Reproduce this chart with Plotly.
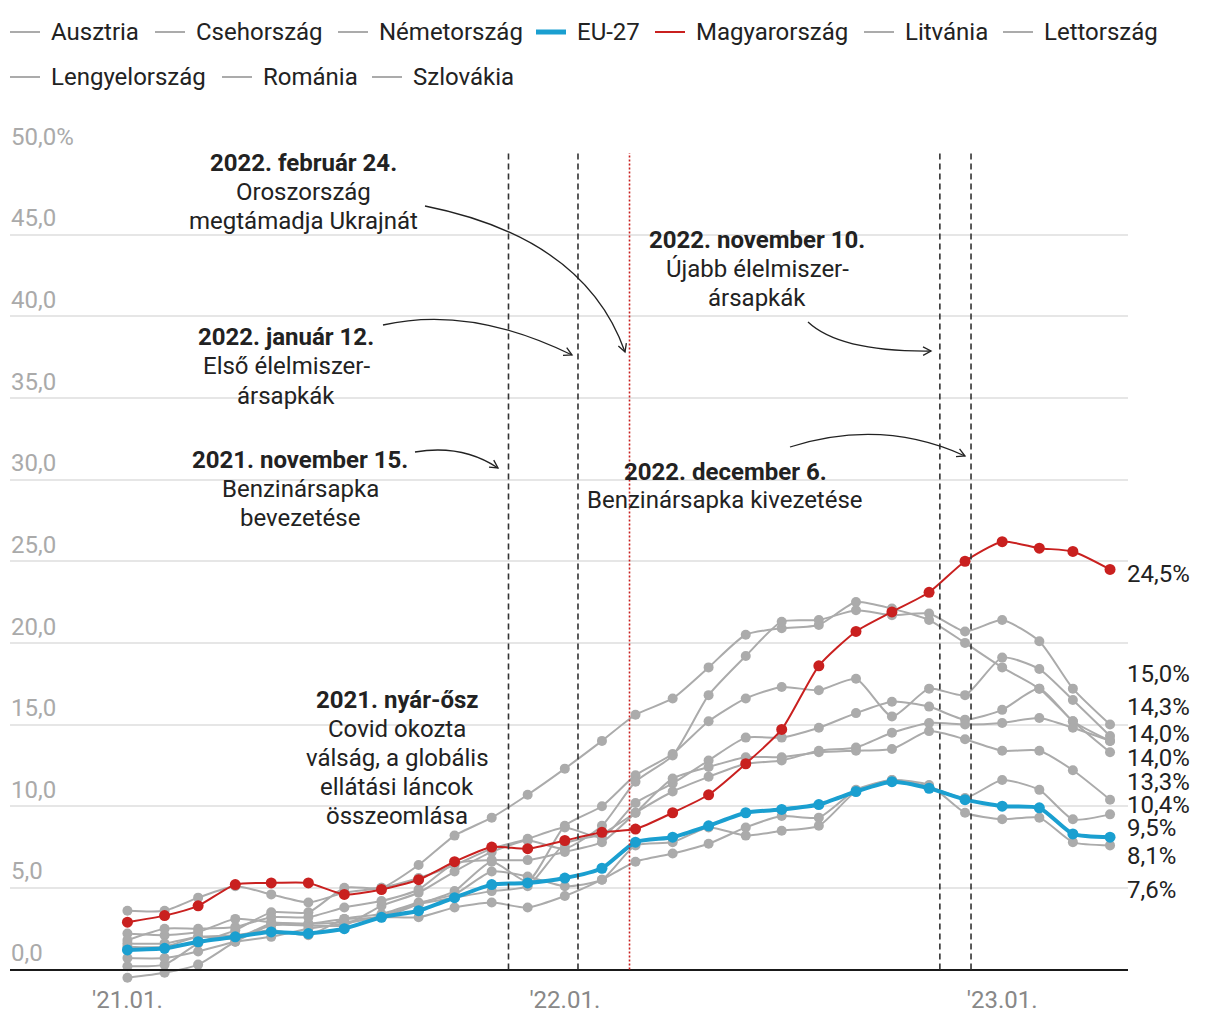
import math
import plotly.graph_objects as go

# ---------------- data ----------------
months = [f"{y}-{m:02d}-01" for y in (2021, 2022, 2023) for m in range(1, 13)][:28]

ausztria = [1.4, 1.4, 2.0, 1.9, 2.8, 2.8, 2.9, 3.2, 3.2, 3.8, 4.1, 3.8,
            4.5, 5.5, 6.6, 7.1, 7.7, 8.7, 9.4, 9.3, 11.0, 11.6, 11.2, 10.5,
            11.6, 11.0, 9.2, 9.5]
csehorszag = [2.2, 2.1, 2.3, 3.1, 2.9, 2.8, 3.1, 3.2, 4.0, 4.8, 6.6, 5.4,
              8.8, 10.0, 11.9, 13.2, 15.2, 16.6, 17.3, 17.1, 17.8, 15.5, 17.2, 16.8,
              19.1, 18.4, 16.5, 14.3]
nemetorszag = [1.6, 1.6, 2.0, 2.1, 2.4, 2.1, 3.1, 3.4, 4.1, 4.6, 6.0, 5.7,
               5.1, 5.5, 7.6, 7.8, 8.7, 8.2, 8.5, 8.8, 10.9, 11.6, 11.3, 9.6,
               9.2, 9.3, 7.8, 7.6]
eu27 = [1.2, 1.3, 1.7, 2.0, 2.3, 2.2, 2.5, 3.2, 3.6, 4.4, 5.2, 5.3,
        5.6, 6.2, 7.8, 8.1, 8.8, 9.6, 9.8, 10.1, 10.9, 11.5, 11.1, 10.4,
        10.0, 9.9, 8.3, 8.1]
magyarorszag = [2.9, 3.3, 3.9, 5.2, 5.3, 5.3, 4.6, 4.9, 5.5, 6.6, 7.5, 7.4,
                7.9, 8.4, 8.6, 9.6, 10.7, 12.6, 14.7, 18.6, 20.7, 21.9, 23.1, 25.0,
                26.2, 25.8, 25.6, 24.5]
litvania = [0.2, 0.3, 1.6, 2.4, 3.5, 3.5, 5.0, 5.0, 6.4, 8.2, 9.3, 10.7,
            12.3, 14.0, 15.6, 16.6, 18.5, 20.5, 20.9, 21.1, 22.5, 22.1, 21.4, 20.0,
            18.5, 17.2, 15.2, 13.3]
lettorszag = [-0.5, -0.2, 0.3, 1.7, 2.7, 2.7, 2.7, 3.9, 4.7, 6.0, 7.2, 7.9,
              7.4, 8.8, 11.5, 13.1, 16.8, 19.2, 21.3, 21.4, 22.0, 21.7, 21.8, 20.7,
              21.4, 20.1, 17.2, 15.0]
lengyelorszag = [3.6, 3.6, 4.4, 5.1, 4.6, 4.1, 4.7, 5.0, 5.6, 6.4, 7.4, 8.0,
                 8.7, 8.1, 10.2, 11.4, 12.8, 14.2, 14.2, 14.8, 15.7, 16.4, 16.1, 15.3,
                 15.9, 17.2, 15.2, 14.0]
romania = [1.8, 2.5, 2.5, 2.6, 3.2, 3.2, 3.8, 4.2, 4.9, 6.5, 6.7, 6.7,
           7.2, 7.8, 9.6, 11.7, 12.4, 13.0, 13.0, 13.3, 13.4, 13.5, 14.6, 14.1,
           13.4, 13.4, 12.2, 10.4]
szlovakia = [0.7, 0.7, 1.1, 1.7, 2.0, 2.5, 2.8, 3.3, 4.0, 4.4, 4.8, 5.1,
             7.7, 8.3, 9.6, 10.9, 11.8, 12.6, 12.8, 13.4, 13.6, 14.5, 15.1, 15.0,
             15.1, 15.4, 14.8, 14.0]

legend_names = ["Ausztria", "Csehország", "Németország", "EU-27", "Magyarország",
                "Litvánia", "Lettország", "Lengyelország", "Románia", "Szlovákia"]
series_values = [ausztria, csehorszag, nemetorszag, eu27, magyarorszag,
                 litvania, lettorszag, lengyelorszag, romania, szlovakia]

y_tickvals = [0, 5, 10, 15, 20, 25, 30, 35, 40, 45, 50]
y_ticktext = ["0,0", "5,0", "10,0", "15,0", "20,0", "25,0", "30,0", "35,0", "40,0", "45,0", "50,0%"]
x_tickvals = ["2021-01-01", "2022-01-01", "2023-01-01"]
x_ticktext = ["'21.01.", "'22.01.", "'23.01."]

event_dates = ["2021-11-15", "2022-01-12", "2022-02-24", "2022-11-10", "2022-12-06"]
event_red = [False, False, True, False, False]

# ---------------- layout constants ----------------
OFF = 8                      # default page margin of the html body
W, H = 1220 - OFF, 1020 - OFF
SL, ST, SR, SB = 10, 153, 1128, 994          # plot rectangle, screen pixels
ML, MT = SL - OFF, ST - OFF
MR, MB = W - (SR - OFF), H - (SB - OFF)
PW, PH = SR - SL, SB - ST
YMIN, YMAX = -1.5, 50
FONT = "Roboto"
FS = 24
INK = "#222222"
GREY = "#ababab"
RED = "#c9201f"
BLUE = "#1a9fd0"

styles = {
    "EU-27": dict(color=BLUE, width=4, size=11, lw=5),
    "Magyarország": dict(color=RED, width=2, size=11, lw=2),
}
default_style = dict(color=GREY, width=2, size=10, lw=2)

# legend layout (screen pixels): rows of items with symbol start x
legend_rows = [
    (32, [("Ausztria", 10), ("Csehország", 155), ("Németország", 338), ("EU-27", 536),
          ("Magyarország", 655), ("Litvánia", 864), ("Lettország", 1003)]),
    (77, [("Lengyelország", 10), ("Románia", 222), ("Szlovákia", 372)]),
]


def pp(px, py):
    """screen pixel -> paper coordinates"""
    return (px - SL) / PW, (SB - py) / PH


fig = go.Figure()

order = [i for i, n in enumerate(legend_names) if n not in styles]
order += [legend_names.index("Magyarország"), legend_names.index("EU-27")]

for i in order:
    name = legend_names[i]
    vals = series_values[i]
    st = styles.get(name, default_style)
    fig.add_trace(go.Scatter(
        x=months, y=vals, name=name, mode="lines+markers",
        line=dict(color=st["color"], width=st["width"], shape="spline", smoothing=0.6),
        marker=dict(color=st["color"], size=st["size"]),
        showlegend=False, cliponaxis=False,
        hovertemplate="%{x|%Y.%m.}: %{y:.1f}%<extra>" + name + "</extra>"))

shapes = []
annotations = []

for ry, items in legend_rows:
    for name, sx in items:
        st = styles.get(name, default_style)
        a, b = pp(sx, ry)
        c, _ = pp(sx + 30, ry)
        shapes.append(dict(type="line", xref="paper", yref="paper", x0=a, x1=c, y0=b, y1=b,
                           line=dict(color=st["color"], width=st["lw"])))
        tx, _ = pp(sx + 39, ry)
        annotations.append(dict(xref="paper", yref="paper", x=tx, y=b, xanchor="left", yanchor="middle",
                                text=name, showarrow=False, font=dict(family=FONT, size=FS, color=INK)))

for d, red in zip(event_dates, event_red):
    shapes.append(dict(type="line", xref="x", yref="y", x0=d, x1=d, y0=0, y1=50,
                       line=dict(color=RED if red else "#333333", width=1.6,
                                 dash="2px,2px" if red else "6px,4px"), layer="above"))

arrows = [
    (425, 206, 585, 238, 625, 352),
    (383, 325, 470, 305, 572, 355),
    (415, 452, 462, 444, 498, 468),
    (808, 322, 840, 352, 931, 351),
    (790, 447, 882, 418, 965, 456),
]
for x0, y0, cx, cy, x1, y1 in arrows:
    a, b = pp(x0, y0)
    c, d = pp(cx, cy)
    e, f = pp(x1, y1)
    shapes.append(dict(type="path", xref="paper", yref="paper",
                       path=f"M {a},{b} Q {c},{d} {e},{f}",
                       line=dict(color=INK, width=1.3)))
    dx, dy = x1 - cx, y1 - cy
    n = math.hypot(dx, dy)
    dx, dy = dx / n, dy / n
    pts = []
    for ang in (math.radians(28), -math.radians(28)):
        rx = dx * math.cos(ang) - dy * math.sin(ang)
        ry = dx * math.sin(ang) + dy * math.cos(ang)
        pts.append((x1 - 9 * rx, y1 - 9 * ry))
    p1 = pp(*pts[0]); p2 = pp(x1, y1); p3 = pp(*pts[1])
    shapes.append(dict(type="path", xref="paper", yref="paper",
                       path=f"M {p1[0]},{p1[1]} L {p2[0]},{p2[1]} L {p3[0]},{p3[1]}",
                       line=dict(color=INK, width=1.3)))

blocks = [
    (303, [(163, "2022. február 24.", True), (192, "Oroszország", False), (221, "megtámadja Ukrajnát", False)]),
    (286, [(337, "2022. január 12.", True), (366, "Első élelmiszer-", False), (396, "ársapkák", False)]),
    (300, [(460, "2021. november 15.", True), (489, "Benzinársapka", False), (518, "bevezetése", False)]),
    (757, [(240, "2022. november 10.", True), (269, "Újabb élelmiszer-", False), (298, "ársapkák", False)]),
    (725, [(472, "2022. december 6.", True), (500, "Benzinársapka kivezetése", False)]),
    (397, [(700, "2021. nyár-ősz", True), (729, "Covid okozta", False), (758, "válság, a globális", False),
           (787, "ellátási láncok", False), (816, "összeomlása", False)]),
]
for cx, lines in blocks:
    for py, txt, bold in lines:
        x, y = pp(cx, py)
        annotations.append(dict(xref="paper", yref="paper", x=x, y=y, xanchor="center", yanchor="middle",
                                text=f"<b>{txt}</b>" if bold else txt, showarrow=False,
                                font=dict(family=FONT, size=FS, color=INK)))

end_label_y = [24.2, 18.1, 16.1, 14.4, 12.95, 11.5, 10.1, 8.65, 6.95, 4.85]
last = sorted([(v[-1], n) for n, v in zip(legend_names, series_values)], reverse=True)
for (val, n), ly in zip(last, end_label_y):
    annotations.append(dict(xref="paper", yref="y", x=1.0, y=ly, xanchor="left", yanchor="middle",
                            xshift=-3, text=f"{val:.1f}".replace(".", ",") + "%", showarrow=False,
                            font=dict(family=FONT, size=FS, color=INK)))

fig.update_layout(
    width=W, height=H,
    margin=dict(l=ML, r=MR, t=MT, b=MB, pad=0, autoexpand=False),
    paper_bgcolor="white", plot_bgcolor="white",
    font=dict(family=FONT, size=FS, color=INK),
    showlegend=False,
    xaxis=dict(type="date", range=["2020-09-25", "2023-04-16"], showgrid=False, zeroline=False,
               tickvals=x_tickvals, ticktext=x_ticktext, tickfont=dict(family=FONT, size=FS, color="#888888"),
               ticks="outside", ticklen=9, tickcolor="rgba(0,0,0,0)", automargin=False,
               showline=True, linecolor="#1a1a1a", linewidth=2,
               anchor="free", position=(0 - YMIN) / (YMAX - YMIN)),
    yaxis=dict(range=[YMIN, YMAX], tickvals=y_tickvals, ticktext=y_ticktext, showgrid=True,
               gridcolor="#e6e6e6", gridwidth=1.5, zeroline=False, showline=False, automargin=False,
               ticklabelposition="inside top", ticklabeloverflow="allow", ticklabelstandoff=-2,
               tickfont=dict(family=FONT, size=FS, color="#aaaaaa"), ticks=""),
    shapes=shapes, annotations=annotations,
    hovermode="closest",
)

fig.write_html("out.html")
